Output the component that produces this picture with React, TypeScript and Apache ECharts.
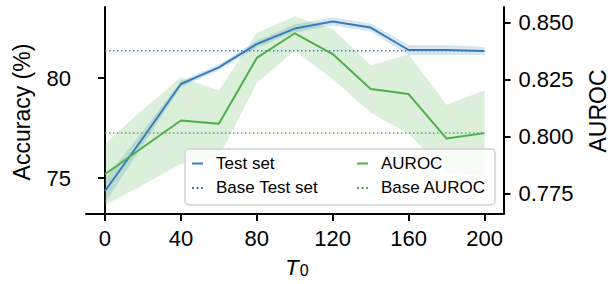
import React, { useEffect, useRef } from "react";
import * as echarts from "echarts";

const T0 = [0, 20, 40, 60, 80, 100, 120, 140, 160, 180, 200];
const testAcc = [74.35, 77.0, 79.7, 80.53, 81.7, 82.47, 82.82, 82.52, 81.4, 81.4, 81.35];
const testStd = [0.6, 0.35, 0.15, 0.15, 0.18, 0.2, 0.2, 0.2, 0.25, 0.25, 0.2];
const baseTest = 81.36;
const auroc = [0.7835, 0.7953, 0.807, 0.8056, 0.8344, 0.8452, 0.8361, 0.8208, 0.8186, 0.7991, 0.8015];
const aurocStd = [0.0135, 0.0165, 0.019, 0.0145, 0.011, 0.0075, 0.011, 0.0104, 0.0174, 0.0148, 0.0188];
const baseAuroc = 0.8015;
const xTicks = [0, 40, 80, 120, 160, 200];
const accTicks = [75, 80];
const aurocTicks = [0.775, 0.8, 0.825, 0.85];

const BLUE = "#377eb8";
const GREEN = "#4daf4a";
const FONT = "Liberation Sans";

const SOLID_ICON = "path://M0,0h11v2h-11z";
const DOT_ICON = "path://M0,0h2v2h-2z M4.5,0h2v2h-2z M9,0h2v2h-2z";

function bandSeries(mean: number[], std: number[], yAxisIndex: number, color: string, z: number) {
  const data = T0.map((t, i) => [t, mean[i] - std[i], mean[i] + std[i]]);
  return {
    type: "custom",
    yAxisIndex,
    silent: true,
    z,
    data,
    encode: { x: 0, y: [1, 2] },
    renderItem: (params: any, api: any) => {
      if (params.dataIndex !== 0) return null;
      const upper = data.map((d) => api.coord([d[0], d[2]]));
      const lower = data.map((d) => api.coord([d[0], d[1]])).reverse();
      return {
        type: "polygon",
        shape: { points: upper.concat(lower) },
        style: { fill: color, opacity: 0.2 },
      };
    },
  };
}

export default function App() {
  const ref = useRef<HTMLDivElement>(null);
  useEffect(() => {
    if (!ref.current) return;
    const chart = echarts.init(ref.current, null, { renderer: "svg" });
    const pair = (vals: number[]) => T0.map((t, i) => [t, vals[i]]);
    const axisLine = { show: true, lineStyle: { color: "#000", width: 2 } };
    const axisTick = { show: true, length: 7, lineStyle: { color: "#000", width: 2 } };
    const dotted = [1.5, 2.5];
    const legendCommon = {
      orient: "vertical",
      top: 155,
      padding: 0,
      itemGap: 7.4,
      itemWidth: 11,
      itemHeight: 2,
      textStyle: { fontSize: 17, color: "#000", fontFamily: FONT, padding: [0, 0, 0, 8] },
      selectedMode: false,
    };
    chart.setOption({
      animation: false,
      grid: { left: 86, right: 106.5, top: 7, bottom: 70, containLabel: false },
      xAxis: {
        type: "value",
        min: -10,
        max: 210,
        axisLine,
        axisTick: { ...axisTick, customValues: xTicks },
        axisLabel: { customValues: xTicks, fontSize: 22, color: "#000", fontFamily: FONT, margin: 13 },
        splitLine: { show: false },
      },
      yAxis: [
        {
          type: "value",
          min: 73.2,
          max: 83.55,
          position: "left",
          axisLine,
          axisTick: { ...axisTick, customValues: accTicks },
          axisLabel: { customValues: accTicks, fontSize: 22, color: "#000", fontFamily: FONT, margin: 15 },
          splitLine: { show: false },
        },
        {
          type: "value",
          min: 0.7661,
          max: 0.8567,
          position: "right",
          axisLine,
          axisTick: { ...axisTick, customValues: aurocTicks },
          axisLabel: {
            customValues: aurocTicks,
            fontSize: 22,
            color: "#000",
            fontFamily: FONT,
            margin: 15,
            formatter: (v: number) => v.toFixed(3),
          },
          splitLine: { show: false },
        },
      ],
      legend: [
        {
          ...legendCommon,
          left: 192,
          data: [
            { name: "Test set", icon: SOLID_ICON },
            { name: "Base Test set", icon: DOT_ICON },
          ],
        },
        {
          ...legendCommon,
          left: 357,
          data: [
            { name: "AUROC", icon: SOLID_ICON },
            { name: "Base AUROC", icon: DOT_ICON },
          ],
        },
      ],
      graphic: [
        {
          type: "rect",
          z: 3,
          shape: { x: 185, y: 149, width: 310, height: 56, r: 4 },
          style: { fill: "rgba(255,255,255,0.8)", stroke: "#d2d2d2", lineWidth: 1.5 },
        },
        {
          type: "text",
          x: 22,
          y: 112,
          rotation: Math.PI / 2,
          style: { text: "Accuracy (%)", fontSize: 23, fontFamily: FONT, fill: "#000", align: "center", verticalAlign: "middle" },
        },
        {
          type: "text",
          x: 598,
          y: 111,
          rotation: Math.PI / 2,
          style: { text: "AUROC", fontSize: 23, fontFamily: FONT, fill: "#000", align: "center", verticalAlign: "middle" },
        },
        {
          type: "text",
          x: 297,
          y: 266,
          style: {
            text: "{i|T}{s|0}",
            align: "center",
            verticalAlign: "middle",
            fill: "#000",
            rich: {
              i: { fontSize: 22, fontStyle: "italic", fontFamily: FONT, lineHeight: 24, verticalAlign: "bottom" },
              s: { fontSize: 16, fontFamily: FONT, lineHeight: 20, verticalAlign: "bottom", padding: [0, 0, 0, 1] },
            },
          },
        },
      ],
      series: [
        bandSeries(testAcc, testStd, 0, BLUE, 1),
        {
          type: "line",
          name: "Test set",
          yAxisIndex: 0,
          data: pair(testAcc),
          symbol: "none",
          color: BLUE,
          lineStyle: { color: BLUE, width: 2 },
          z: 2,
        },
        {
          type: "line",
          name: "Base Test set",
          yAxisIndex: 0,
          data: [[T0[0], baseTest], [T0[T0.length - 1], baseTest]],
          symbol: "none",
          color: BLUE,
          lineStyle: { color: BLUE, width: 1.5, type: dotted },
          z: 2,
        },
        bandSeries(auroc, aurocStd, 1, GREEN, 2),
        {
          type: "line",
          name: "AUROC",
          yAxisIndex: 1,
          data: pair(auroc),
          symbol: "none",
          color: GREEN,
          lineStyle: { color: GREEN, width: 2 },
          z: 2,
        },
        {
          type: "line",
          name: "Base AUROC",
          yAxisIndex: 1,
          data: [[T0[0], baseAuroc], [T0[T0.length - 1], baseAuroc]],
          symbol: "none",
          color: GREEN,
          lineStyle: { color: GREEN, width: 1.5, type: dotted },
          z: 2,
        },
      ],
    });
    return () => chart.dispose();
  }, []);
  return <div ref={ref} style={{ position: "absolute", left: 0, top: 0, width: 610, height: 284 }} />;
}
